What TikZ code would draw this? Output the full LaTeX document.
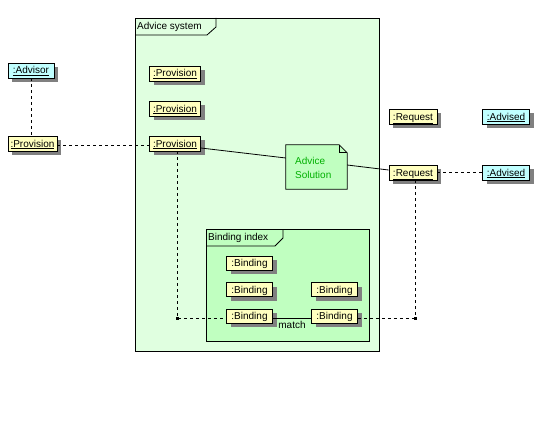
\documentclass[tikz,border=0pt]{standalone}
\usepackage{fontspec}
\setmainfont{Liberation Sans}
\usetikzlibrary{shadows}
\definecolor{objyellow}{RGB}{255,255,192}
\definecolor{objcyan}{RGB}{192,255,255}
\definecolor{sysgreen}{RGB}{224,255,224}
\definecolor{idxgreen}{RGB}{192,255,192}
\definecolor{notegreen}{RGB}{192,255,192}
\definecolor{notetext}{RGB}{0,176,0}
\definecolor{shadowgray}{RGB}{128,128,128}
\begin{document}
\begin{tikzpicture}[x=1pt,y=-1pt,
  lbl/.style={font=\fontsize{10}{12}\selectfont, inner sep=0pt},
  obj/.style={draw=black, line width=0.8pt, inner sep=0pt, minimum height=15pt,
    text height=7.5pt, text depth=0.5pt,
    font=\fontsize{10}{12}\selectfont,
    drop shadow={shadow xshift=4pt, shadow yshift=-4pt, fill=shadowgray, opacity=1}},
  prov/.style={obj, fill=objyellow},
  actor/.style={obj, fill=objcyan},
  frameline/.style={draw=black, line width=0.8pt},
  link/.style={line width=0.8pt, dash pattern=on 3pt off 3pt},
  assoc/.style={line width=0.8pt},
  dotmark/.style={fill=black, inner sep=0pt, minimum size=3pt, shape=rectangle}]
\useasboundingbox[fill=white] (0,0) rectangle (541,444);

% Advice system frame
\filldraw[frameline, fill=sysgreen] (135,18) rectangle (379,351);
\draw[frameline] (135,35) -- (207,35) -- (216,27) -- (216,18);
\node[lbl, anchor=west] (systitle) at (137,26.5) {Advice system};

% Binding index frame
\filldraw[frameline, fill=idxgreen] (206,229) rectangle (369,341);
\draw[frameline] (206,246) -- (275,246) -- (283,238) -- (283,229);
\node[lbl, anchor=west] (idxtitle) at (208,237.5) {Binding index};

% objects
\node[actor, minimum width=46pt] (Advisor) at (31,70.5) {\underline{:Advisor}};
\node[prov, minimum width=49pt] (ProvL) at (32.5,143.5) {\underline{:Provision}};
\node[prov, minimum width=51pt] (Prov1) at (175,73.5) {\underline{:Provision}};
\node[prov, minimum width=51pt] (Prov2) at (175,108.5) {\underline{:Provision}};
\node[prov, minimum width=51pt] (Prov3) at (175,143.5) {\underline{:Provision}};
\node[prov, minimum width=48pt] (ReqU) at (413,116.5) {\underline{:Request}};
\node[prov, minimum width=48pt] (ReqL) at (413,172.5) {\underline{:Request}};
\node[actor, minimum width=47pt] (AdvU) at (506,116.5) {\underline{:Advised}};
\node[actor, minimum width=47pt] (AdvL) at (506,172.5) {\underline{:Advised}};

\node[prov, minimum width=46pt, minimum height=14pt] (B1) at (249.5,263) {\underline{:Binding}};
\node[prov, minimum width=46pt, minimum height=14pt] (B2) at (249.5,289.5) {\underline{:Binding}};
\node[prov, minimum width=46pt, minimum height=14pt] (B3) at (249.5,316) {\underline{:Binding}};
\node[prov, minimum width=46pt, minimum height=14pt] (B4) at (334.5,289.5) {\underline{:Binding}};
\node[prov, minimum width=46pt, minimum height=14pt] (B5) at (334.5,316) {\underline{:Binding}};

% note
\node[minimum width=61pt, minimum height=44pt, inner sep=0pt] (note) at (316.5,167) {};
\filldraw[frameline, fill=notegreen] (note.north west) -- ([xshift=-8pt]note.north east)
  -- ([yshift=-8pt]note.north east) -- (note.south east) -- (note.south west) -- cycle;
\draw[frameline] ([xshift=-8pt]note.north east) -- ([xshift=-8pt,yshift=-8pt]note.north east)
  -- ([yshift=-8pt]note.north east);
\node[lbl, anchor=west, text=notetext, align=left, font=\fontsize{10}{14}\selectfont] (notetxt) at (295,167.5) {Advice\\Solution};

% junction points
\coordinate (d1) at (177,318);
\coordinate (d2) at (415,318);

% connectors
\draw[link] (Advisor.south) -- (Advisor.south |- ProvL.north);
\draw[link] ([yshift=-1.5pt]ProvL.east) -- ([yshift=-1.5pt]Prov3.west);
\draw[link] (d1 |- Prov3.south) -- (d1) -- (d1 -| B3.west);
\draw[link] (d1 -| B5.east) -- (d2) -- (d2 |- ReqL.south);
\draw[link] (ReqL.east) -- (AdvL.west);
\draw[assoc] ([yshift=-4.5pt]Prov3.east) -- ([yshift=9pt]note.west);
\draw[assoc] ([yshift=2pt]note.east) -- ([yshift=2.5pt]ReqL.west);
\draw[assoc] (d1 -| B3.east) -- node[lbl, below=2.5pt] (matchlbl) {match} (d1 -| B5.west);
\node[dotmark] (dot1) at (d1) {};
\node[dotmark] (dot2) at (d2) {};
\end{tikzpicture}
\end{document}
